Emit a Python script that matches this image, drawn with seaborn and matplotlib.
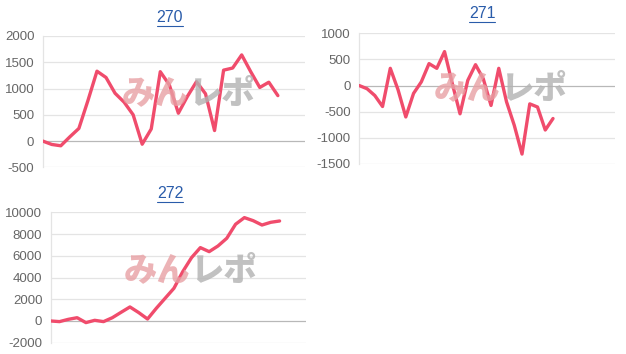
import matplotlib
matplotlib.use("Agg")
import matplotlib.pyplot as plt
import seaborn as sns
import pandas as pd
from matplotlib.lines import Line2D

titles = ["270", "271", "272"]
vals_270 = [0, -65, -90, 80, 240, 770, 1330, 1210, 910, 740, 500, -60, 230, 1320,
            1070, 530, 850, 1130, 900, 200, 1350, 1390, 1640, 1320, 1020, 1120, 865]
vals_271 = [0, -60, -190, -400, 330, -80, -600, -150, 70, 420, 330, 650, 40, -540,
            100, 400, 130, -380, 330, -310, -760, -1310, -350, -410, -850, -630]
vals_272 = [0, -60, 150, 300, -150, 60, -60, 300, 800, 1290, 770, 180, 1170, 2090,
            3010, 4540, 5830, 6750, 6380, 6900, 7610, 8900, 9510, 9230, 8830, 9080, 9200]
yticks_270 = [-500, 0, 500, 1000, 1500, 2000]
yticks_271 = [-1500, -1000, -500, 0, 500, 1000]
yticks_272 = [-2000, 0, 2000, 4000, 6000, 8000, 10000]
n_labels = [30, 34, 30]

sns.set_style("white")
plt.rcParams['font.family'] = ['Liberation Sans', 'DejaVu Sans', 'Noto Sans CJK JP']

W, H = 626, 354
fig = plt.figure(figsize=(W / 100, H / 100), dpi=100)

LINE = "#f04c6c"

panels = [
    # left, right, top, bottom (pixels), values, yticks, title pos (x,y px), watermark center
    (42.7, 305, 36, 167.3, vals_270, yticks_270, (170, 18), (186, 93)),
    (359.3, 615, 33.3, 164, vals_271, yticks_271, (482, 14), (498, 88)),
    (50.7, 306, 212.3, 342.7, vals_272, yticks_272, (170, 194), (188, 270)),
]

for i, (l, r, t, b, vals, yt, tpos, wpos) in enumerate(panels):
    ax = fig.add_axes([l / W, 1 - b / H, (r - l) / W, (b - t) / H])
    df = pd.DataFrame({"x": list(range(len(vals))), "y": vals})
    # watermark
    fig.text(wpos[0] / W + 0.004, 1 - wpos[1] / H, "みん", color="#e8a0a4", alpha=0.8,
             fontsize=24, fontweight="black", ha="right", va="center",
             family=["Noto Sans CJK JP"], zorder=0.5)
    fig.text(wpos[0] / W + 0.004, 1 - wpos[1] / H, "レポ", color="#b2b2b2", alpha=0.8,
             fontsize=24, fontweight="black", ha="left", va="center",
             family=["Noto Sans CJK JP"], zorder=0.5)
    ax.set_facecolor("none")
    sns.lineplot(data=df, x="x", y="y", ax=ax, color=LINE, linewidth=2.4, zorder=5)
    ax.set_xlim(0, n_labels[i] - 1)
    ax.set_ylim(yt[0], yt[-1])
    ax.set_yticks(yt)
    ax.set_yticklabels([str(v) for v in yt])
    ax.set_xticks([])
    ax.set_xlabel("")
    ax.set_ylabel("")
    for v in yt:
        ax.axhline(v, color="#b8b8b8" if v == 0 else "#e4e4e4", linewidth=0.9, zorder=1)
    for s in ["top", "right", "bottom"]:
        ax.spines[s].set_visible(False)
    ax.spines["left"].set_color("#e4e4e4")
    ax.spines["left"].set_linewidth(0.9)
    ax.tick_params(axis="y", length=0, pad=6, labelsize=9.5, labelcolor="#666666")
    # title with underline
    txt = fig.text(tpos[0] / W, 1 - tpos[1] / H, titles[i], color="#2a5caa",
                   fontsize=11.5, ha="center", va="center")
    fig.canvas.draw()
    bb = txt.get_window_extent()
    uy = bb.y0 - 0.5
    fig.add_artist(Line2D([bb.x0 / W, bb.x1 / W], [uy / H, uy / H],
                          color="#2a5caa", linewidth=0.8, transform=fig.transFigure))

fig.savefig("out.png", dpi=100)
